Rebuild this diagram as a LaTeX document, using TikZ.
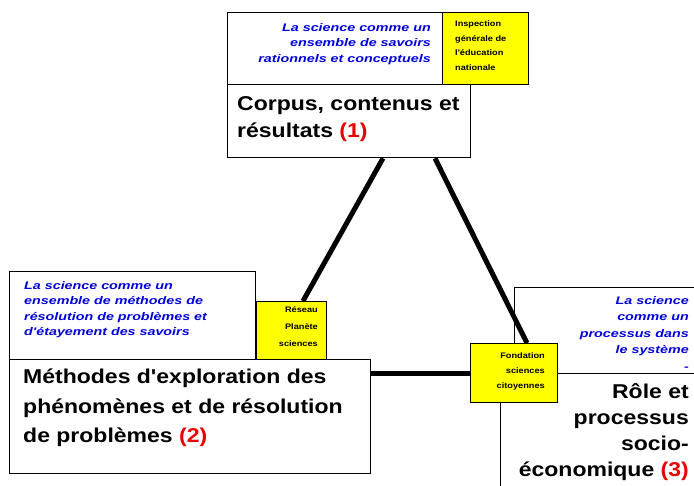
\documentclass[tikz,border=0pt]{standalone}
\usepackage{fontspec}
\setmainfont{Liberation Sans}
\newfontfamily\bigf[FakeStretch=1.15]{Liberation Sans Bold}
\newfontfamily\bluef[FakeStretch=1.3]{Liberation Sans Bold Italic}
\newfontfamily\tinyf[FakeStretch=1.15]{Liberation Sans Bold}
\definecolor{ybox}{RGB}{255,255,0}
\definecolor{bluet}{RGB}{0,0,220}
\definecolor{redt}{RGB}{235,0,0}
\begin{document}
\begin{tikzpicture}[x=1pt,y=-1pt,
  wbox/.style={draw=black,line width=1.3pt,fill=white,anchor=north west,inner sep=0pt},
  ybx/.style={draw=black,line width=1.3pt,fill=ybox,anchor=north west,inner sep=0pt},
  conn/.style={line width=5pt,draw=black},
  bigtxt/.style={font=\bigf\fontsize{20}{27}\selectfont,inner sep=0pt},
  bluetxt/.style={font=\bluef\fontsize{11}{15.5}\selectfont,text=bluet,inner sep=0pt},
  ytxt/.style={font=\tinyf\fontsize{8}{15}\selectfont,inner sep=0pt}]
\useasboundingbox (0,0) rectangle (694,485);
\clip (0,0) rectangle (694,485);
% top group
\node[wbox,minimum width=215,minimum height=72] (t0) at (227,12) {};
\node[ybx,minimum width=86,minimum height=72] (ty) at (442,12) {};
\node[wbox,minimum width=243,minimum height=73] (t1) at (227,84) {};
% left group
\node[wbox,minimum width=246,minimum height=88] (l0) at (9,271) {};
\node[ybx,minimum width=70,minimum height=58] (ly) at (256,301) {};
\node[wbox,minimum width=361,minimum height=114] (l1) at (9,359) {};
% right group
\node[wbox,minimum width=200,minimum height=86] (r0) at (514,287) {};
\node[wbox,minimum width=210,minimum height=140] (r1) at (500,373) {};
\node[ybx,minimum width=87,minimum height=59] (ry) at (470,343) {};
% connectors
\draw[conn] ([xshift=156pt]t1.south west) -- ([xshift=47pt]ly.north west);
\draw[conn] ([xshift=208pt]t1.south west) -- ([xshift=57pt]ry.north west);
\draw[conn] (ry.west) -- (ry.west -| l1.east);
% texts top
\node[bluetxt,align=right,anchor=north east] (tb) at (431,23) {La science comme un\\ensemble de savoirs\\rationnels et conceptuels};
\node[ytxt,align=left,anchor=north west] (tyt) at (455,20) {Inspection\\générale de\\l'éducation\\nationale};
\node[bigtxt,align=left,anchor=north west] (tm) at (237,96) {Corpus, contenus et\\résultats {\color{redt}(1)}};
% texts left
\node[bluetxt,align=left,anchor=north west] (lb) at (24,281) {La science comme un\\ensemble de méthodes de\\résolution de problèmes et\\d'étayement des savoirs};
\node[ytxt,align=right,anchor=north east,font=\tinyf\fontsize{8}{17}\selectfont] (lyt) at (318,306) {Réseau\\Planète\\sciences};
\node[bigtxt,align=left,anchor=north west,font=\bigf\fontsize{20}{29.5}\selectfont] (lm) at (23,369) {Méthodes d'exploration des\\phénomènes et de résolution\\de problèmes {\color{redt}(2)}};
% texts right
\node[bluetxt,align=right,anchor=north east,font=\bluef\fontsize{11}{16.5}\selectfont] (rb) at (689,296) {La science\\comme un\\processus dans\\le système\\-};
\node[ytxt,align=right,anchor=north east] (ryt) at (545,352) {Fondation\\sciences\\citoyennes};
\node[bigtxt,align=right,anchor=north east,font=\bigf\fontsize{20}{26}\selectfont] (rm) at (689,383) {Rôle et\\processus\\socio-\\économique {\color{redt}(3)}};
\end{tikzpicture}
\end{document}
